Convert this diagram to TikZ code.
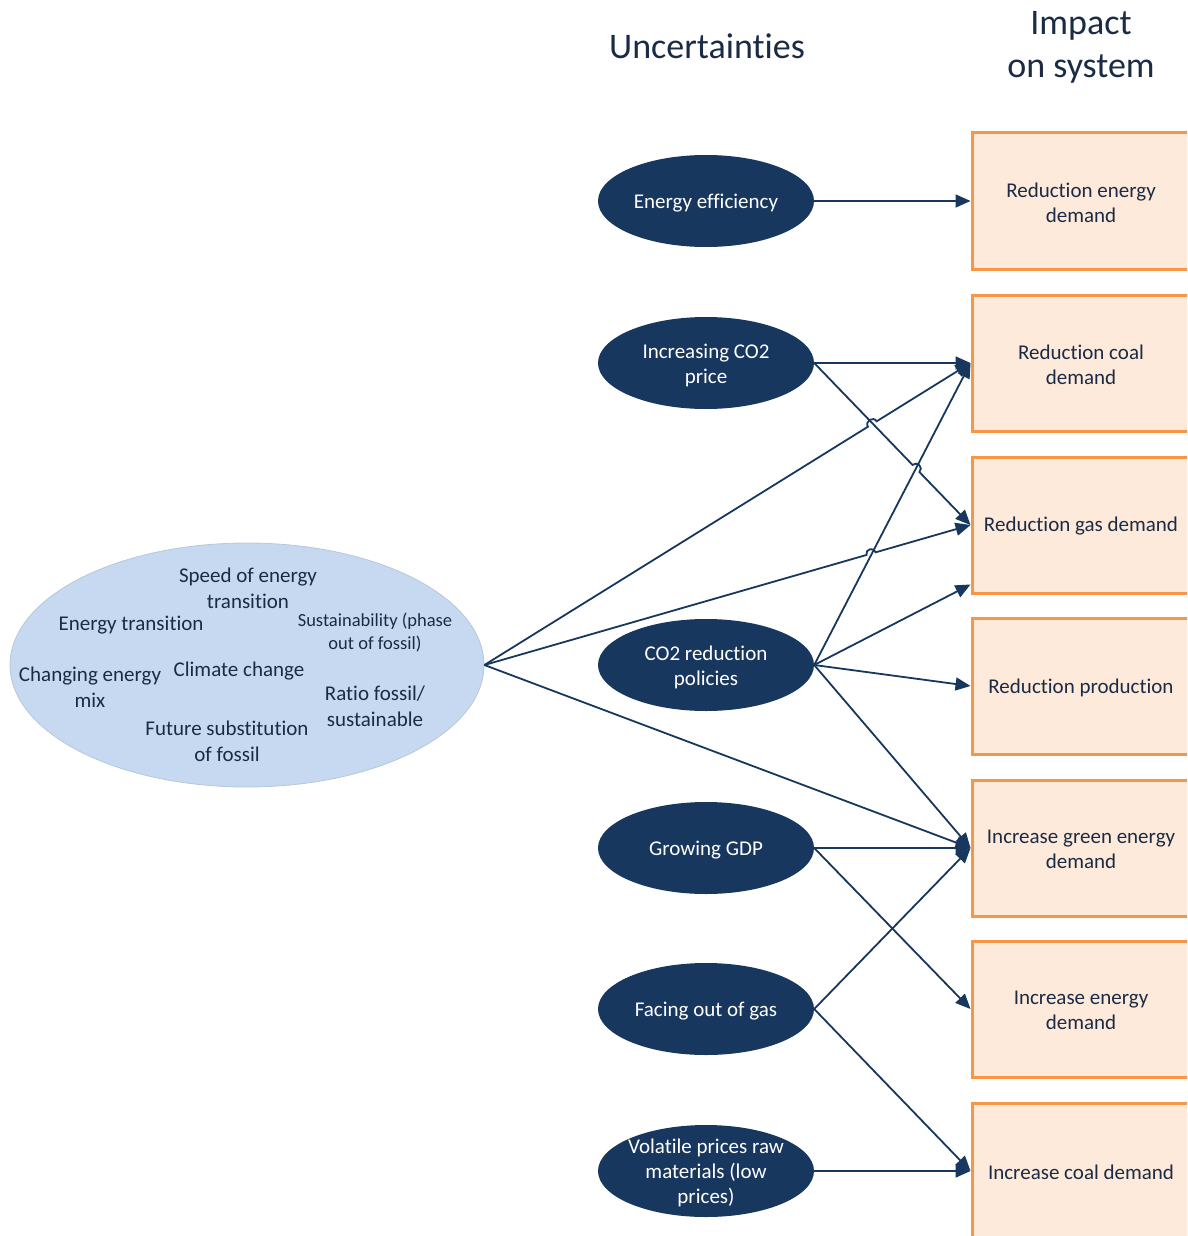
\documentclass[tikz,border=0pt]{standalone}
\usepackage{fontspec}
\setmainfont{Carlito}[Ligatures=NoCommon]
\usetikzlibrary{shapes.geometric,arrows.meta,calc}
\definecolor{navy}{HTML}{17375E}
\definecolor{inktext}{HTML}{1C2B45}
\definecolor{paleblue}{HTML}{C6D9F0}
\definecolor{paleedge}{HTML}{B8C7DA}
\definecolor{peach}{HTML}{FDEADA}
\definecolor{orangeedge}{HTML}{F79646}
\begin{document}
\begin{tikzpicture}[x=1pt,y=1pt,
  unc/.style={ellipse, fill=navy, draw=none, minimum width=216pt, minimum height=92pt, inner sep=0pt},
  unctext/.style={text=white, align=center, font=\fontsize{21}{25}\selectfont, inner sep=0pt, yshift=-2pt},
  impact/.style={rectangle, fill=peach, draw=orangeedge, line width=3pt, minimum width=218pt, minimum height=136pt, inner sep=0pt, align=center, text=inktext, font=\fontsize{21}{25}\selectfont},
  impacttext/.style={text=inktext, align=center, font=\fontsize{21}{25}\selectfont, inner sep=0pt, yshift=-1.5pt},
  factor/.style={align=center, text=inktext, font=\fontsize{21}{26}\selectfont, inner sep=0pt},
  smallfactor/.style={align=center, text=inktext, font=\fontsize{18.5}{23}\selectfont, inner sep=0pt},
  heading/.style={align=center, text=inktext, font=\fontsize{36}{43}\selectfont, inner sep=0pt},
  conn/.style={draw=navy, line width=1.8pt, -{Triangle[length=15pt,width=13pt]}},
  hop/.style={bend left=90, looseness=1.6}]

\clip (0,0) rectangle (1187,-1236);

% headings
\node[heading] (hunc) at (707,-46) {Uncertainties};
\node[heading] (himp) at (1081,-47) {Impact\\on system};

% cluster of general drivers
\node[ellipse, fill=paleblue, draw=paleedge, line width=0.8pt, minimum width=474pt, minimum height=244pt, inner sep=0pt] (big) at (247,-665) {};
\node[factor] (f1) at (248,-588) {Speed of energy\\transition};
\node[factor] (f2) at (131,-625) {Energy transition};
\node[smallfactor] (f3) at (375,-633) {Sustainability (phase\\out of fossil)};
\node[factor] (f4) at (90,-687) {Changing energy\\mix};
\node[factor] (f5) at (239,-671) {Climate change};
\node[factor] (f6) at (375,-706) {Ratio fossil/\\sustainable};
\node[factor] (f7) at (227,-741) {Future substitution\\of fossil};

% uncertainties
\node[unc, label={[unctext]center:Energy efficiency}] (ee) at (706,-201) {};
\node[unc, label={[unctext]center:Increasing CO2\\price}] (ico) at (706,-363) {};
\node[unc, label={[unctext]center:CO2 reduction\\policies}] (cor) at (706,-665) {};
\node[unc, label={[unctext]center:Growing GDP}] (gdp) at (706,-848) {};
\node[unc, label={[unctext]center:Facing out of gas}] (gas) at (706,-1009) {};
\node[unc, label={[unctext]center:Volatile prices raw\\materials (low\\prices)}] (vol) at (706,-1171) {};

% impacts on the system
\node[impact, label={[impacttext]center:Reduction energy\\demand}] (r1) at (1081,-201) {};
\node[impact, label={[impacttext]center:Reduction coal\\demand}] (r2) at (1081,-363) {};
\node[impact, label={[impacttext]center:Reduction gas demand}] (r3) at (1081,-525) {};
\node[impact, label={[impacttext]center:Reduction production}] (r4) at (1081,-686) {};
\node[impact, label={[impacttext]center:Increase green energy\\demand}] (r5) at (1081,-848) {};
\node[impact, label={[impacttext]center:Increase energy\\demand}] (r6) at (1081,-1009) {};
\node[impact, label={[impacttext]center:Increase coal demand}] (r7) at (1081,-1171) {};

% connectors
\draw[conn] (ee.east) -- (r1.west);
\draw[conn] (ico.east) -- (r2.west);
\draw[conn] (ico.east) -- ($(ico.east)!0.629!(r3.west)$) to[hop] ($(ico.east)!0.673!(r3.west)$) -- (r3.west);
\draw[conn] (big.east) -- ($(big.east)!0.789!(r2.west)$) to[hop] ($(big.east)!0.807!(r2.west)$) -- (r2.west);
\draw[conn] (big.east) -- ($(big.east)!0.786!(r3.west)$) to[hop] ($(big.east)!0.805!(r3.west)$) -- (r3.west);
\draw[conn] (big.east) -- (r5.west);
\draw[conn] (cor.east) -- (r2.west);
\draw[conn] (cor.east) -- ($(r3.south west)+(0,10)$);
\draw[conn] (cor.east) -- (r4.west);
\draw[conn] (cor.east) -- (r5.west);
\draw[conn] (gdp.east) -- (r5.west);
\draw[conn] (gdp.east) -- (r6.west);
\draw[conn] (gas.east) -- (r5.west);
\draw[conn] (gas.east) -- (r7.west);
\draw[conn] (vol.east) -- (r7.west);

\end{tikzpicture}
\end{document}
